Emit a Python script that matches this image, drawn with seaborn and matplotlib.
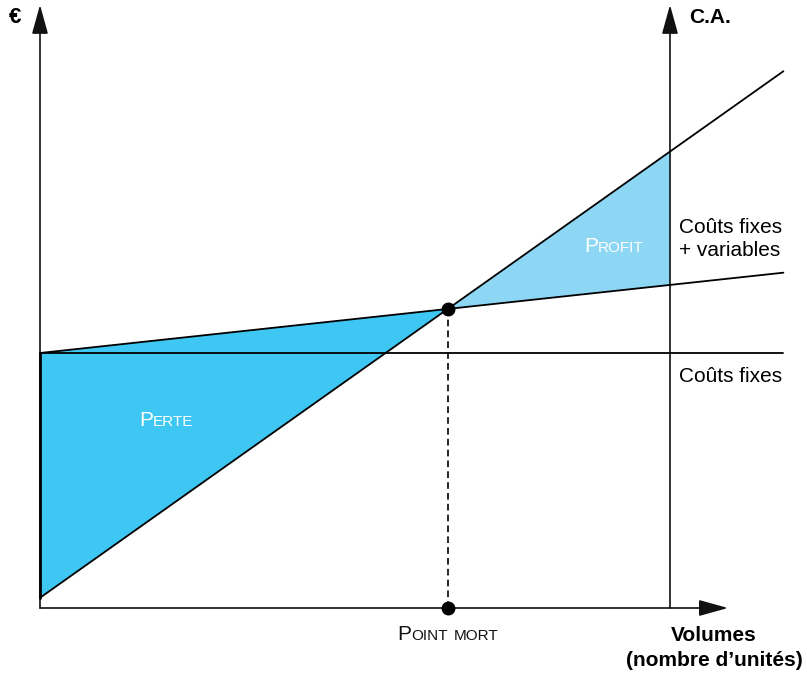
import numpy as np
import seaborn as sns
import matplotlib.pyplot as plt
from matplotlib.offsetbox import TextArea, HPacker, AnnotationBbox

# chart values (volume units / euro units)
volumes = [0, 118]
fixed_costs = [40, 40]
total_costs = [40, 52.6]
revenue = [1.6, 84.2]
ca_volume = 100
axis_top = 94.6
axis_right = 109.2

sns.set_theme(style="white")
plt.rcParams['font.family'] = ['Liberation Sans', 'DejaVu Sans']
plt.rcParams['text.color'] = 'black'

fig = plt.figure(figsize=(8.07, 6.73), dpi=100)
ax = fig.add_axes([0, 0, 1, 1])
sx, sy = 6.3, 6.375
ax.set_xlim(-40 / sx, 767 / sx)
ax.set_ylim(-65 / sy, 608 / sy)
ax.axis('off')


def px(x, y):
    # pixel position (from top-left) -> data coords, used for labels only
    return (x - 40) / sx, (608 - y) / sy


# break-even point from the two lines
rev_slope = (revenue[1] - revenue[0]) / (volumes[1] - volumes[0])
cost_slope = (total_costs[1] - total_costs[0]) / (volumes[1] - volumes[0])
be_x = (total_costs[0] - revenue[0]) / (rev_slope - cost_slope)
be_y = total_costs[0] + cost_slope * be_x
rev_ca = revenue[0] + rev_slope * ca_volume
cost_ca = total_costs[0] + cost_slope * ca_volume

# filled areas
ax.fill([0, 0, be_x], [fixed_costs[0], revenue[0], be_y], color='#3FC7F3', lw=0, zorder=1)
ax.fill([be_x, ca_volume, ca_volume], [be_y, rev_ca, cost_ca], color='#8DD7F5', lw=0, zorder=1)

# lines
for ys in (fixed_costs, total_costs, revenue):
    sns.lineplot(x=volumes, y=ys, color='black', lw=1.3, ax=ax, zorder=3)
ax.plot([0, 0], [revenue[0], fixed_costs[0]], color='black', lw=2, zorder=3)

# axes arrows
arrow = dict(arrowstyle='-|>,head_length=0.9,head_width=0.25', mutation_scale=20,
             color='#111111', lw=1.2, shrinkA=0, shrinkB=0)
ax.annotate('', xy=(0, axis_top), xytext=(0, 0), arrowprops=arrow, zorder=2)
ax.annotate('', xy=(ca_volume, axis_top), xytext=(ca_volume, 0), arrowprops=arrow, zorder=2)
ax.annotate('', xy=(axis_right, 0), xytext=(0, 0), arrowprops=arrow, zorder=2)

# break-even marker
ax.plot([be_x, be_x], [0, be_y], color='black', lw=1.2, ls=(0, (4, 2.5)), zorder=3)
ax.plot([be_x, be_x], [0, be_y], 'o', color='black', ms=9, zorder=4)

# labels
ax.text(*px(15, 18), '€', fontsize=16, fontweight='bold', ha='center', va='center')
ax.text(*px(689, 18), 'C.A.', fontsize=15, fontweight='bold', ha='left', va='center')
ax.text(*px(679, 239), 'Coûts fixes\n+ variables', fontsize=15, ha='left', va='center',
        linespacing=1.3)
ax.text(*px(679, 376), 'Coûts fixes', fontsize=15, ha='left', va='center')
ax.text(*px(714, 648), 'Volumes\n(nombre d\u2019unités)', fontsize=15, fontweight='bold',
        ha='center', va='center', multialignment='center', linespacing=1.35)


def small_caps(words, xy, color):
    parts = []
    for w in words:
        parts.append(TextArea(w[0], textprops=dict(fontsize=15, color=color)))
        parts.append(TextArea(w[1:], textprops=dict(fontsize=11, color=color)))
    box = HPacker(children=parts, align='baseline', pad=0, sep=0)
    ax.add_artist(AnnotationBbox(box, xy, frameon=False, box_alignment=(0.5, 0.5), zorder=5))


small_caps(['PERTE'], px(166, 420), 'white')
small_caps(['PROFIT'], px(614, 247), 'white')
small_caps(['POINT', ' MORT'], px(448, 635), '#111111')

fig.savefig('out.png', dpi=100)
